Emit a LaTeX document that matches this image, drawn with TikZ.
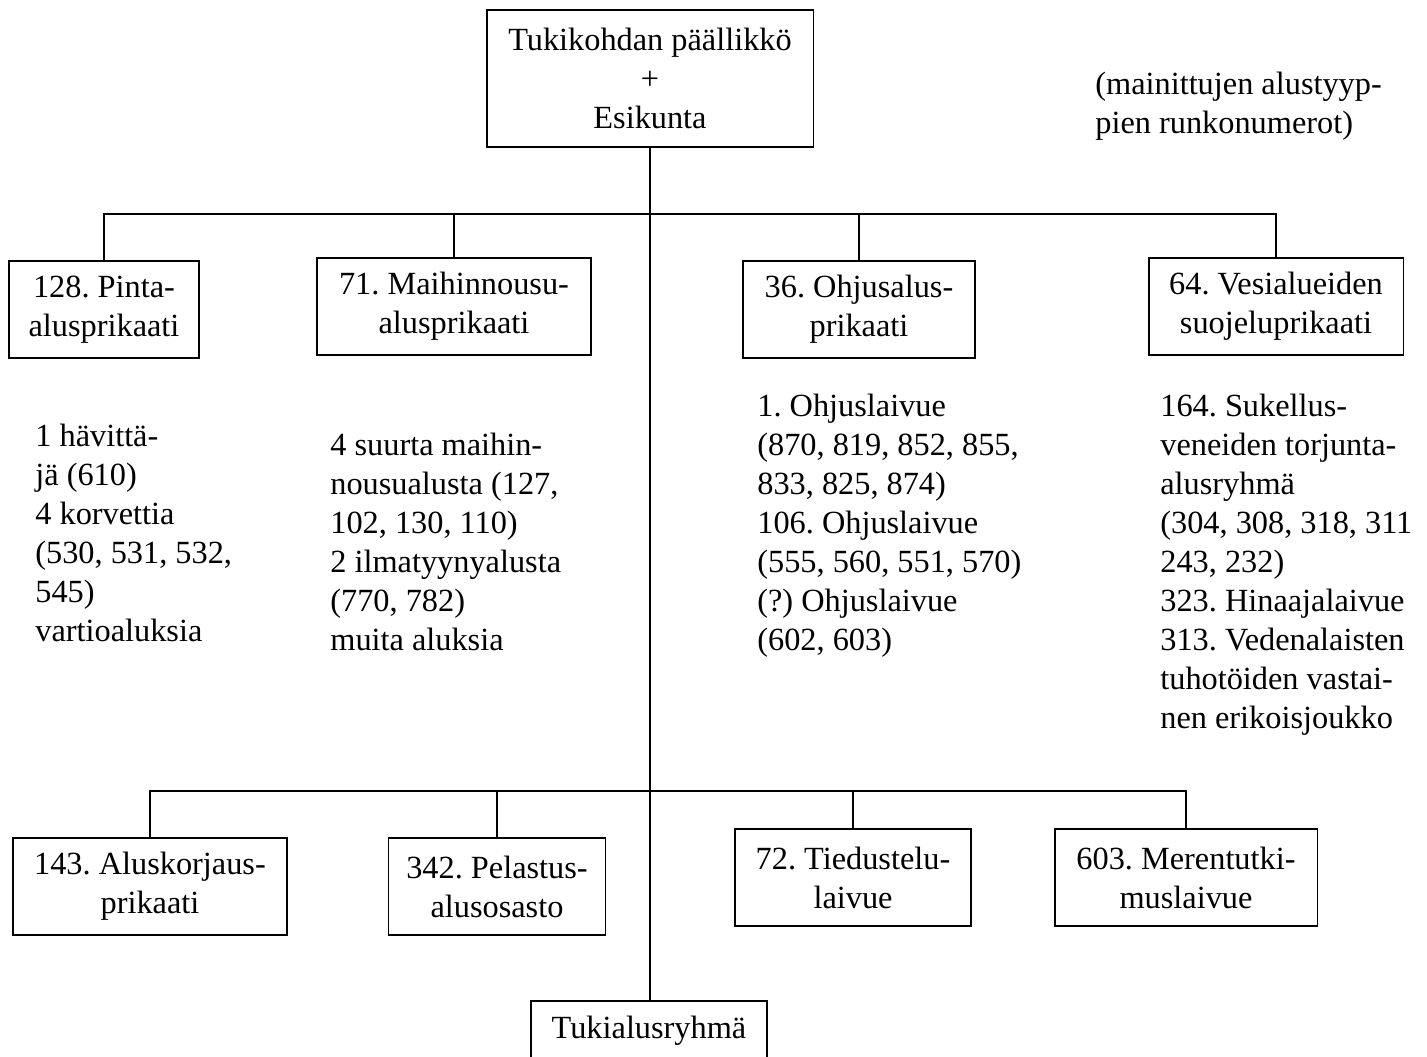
\documentclass[tikz,border=0pt]{standalone}
\usepackage{fontspec}
\setmainfont{Liberation Serif}
\usetikzlibrary{positioning, calc}
\frenchspacing

\begin{document}
\begin{tikzpicture}[
    x=0.02cm, y=-0.02cm,
    unit/.style={
        rectangle, draw=black, line width=1.1pt, fill=white,
        minimum width=#1, minimum height=1.94cm, inner sep=2pt,
        align=center, anchor=north,
        font=\fontsize{18.4}{22.2}\selectfont
    },
    list/.style={
        anchor=north west, inner sep=0pt, align=left,
        font=\fontsize{18.4}{22.2}\selectfont
    },
    link/.style={line width=1.1pt, draw=black}
]
\useasboundingbox (0,0) rectangle (1427,1056);

% Head
\node[unit=6.54cm, minimum height=2.74cm] (head) at (650,9)
    {Tukikohdan päällikkö\\+\\Esikunta};
\node[list] (note) at (1095,72) {(mainittujen alustyyp-\\pien runkonumerot)};

% Brigades -- upper row
\node[unit=3.8cm]  (b128) at (104,260)  {128. Pinta-\\alusprikaati};
\node[unit=5.48cm] (b71)  at (454,257)  {71. Maihinnousu-\\alusprikaati};
\node[unit=4.64cm] (b36)  at (859,260)  {36. Ohjusalus-\\prikaati};
\node[unit=5.1cm]  (b64)  at (1276,257) {64. Vesialueiden\\suojeluprikaati};

% Ship lists
\node[list] (l128) at (35,424)  {1 hävittä-\\jä (610)\\4 korvettia\\(530, 531, 532,\\545)\\vartioaluksia};
\node[list] (l71)  at (330,433) {4 suurta maihin-\\nousualusta (127,\\102, 130, 110)\\2 ilmatyynyalusta\\(770, 782)\\muita aluksia};
\node[list] (l36)  at (757,394) {1. Ohjuslaivue\\(870, 819, 852, 855,\\833, 825, 874)\\106. Ohjuslaivue\\(555, 560, 551, 570)\\(?) Ohjuslaivue\\(602, 603)};
\node[list] (l64)  at (1160,394) {164. Sukellus-\\veneiden torjunta-\\alusryhmä\\(304, 308, 318, 311\\243, 232)\\323. Hinaajalaivue\\313. Vedenalaisten\\tuhotöiden vastai-\\nen erikoisjoukko};

% Units -- lower row
\node[unit=5.48cm] (b143) at (150,837)  {143. Aluskorjaus-\\prikaati};
\node[unit=4.34cm] (b342) at (497,837)  {342. Pelastus-\\alusosasto};
\node[unit=4.72cm] (b72)  at (853,828)  {72. Tiedustelu-\\laivue};
\node[unit=5.26cm] (b603) at (1186,828) {603. Merentutki-\\muslaivue};

\coordinate (busU) at (650,214);
\coordinate (busL) at (650,791);

% Trunk
\draw[link] (head.south) -- (650,1000);

% Upper bus
\draw[link] (b128.north) -- (b128.north |- busU) -- (b64.north |- busU) -- (b64.north);
\draw[link] (b71.north) -- (b71.north |- busU);
\draw[link] (b36.north) -- (b36.north |- busU);

% Lower bus
\draw[link] (b143.north) -- (b143.north |- busL) -- (b603.north |- busL) -- (b603.north);
\draw[link] (b342.north) -- (b342.north |- busL);
\draw[link] (b72.north) -- (b72.north |- busL);

\node[unit=4.72cm, minimum height=1.2cm] (tuki) at (649,1000) {Tukialusryhmä};

\end{tikzpicture}
\end{document}
